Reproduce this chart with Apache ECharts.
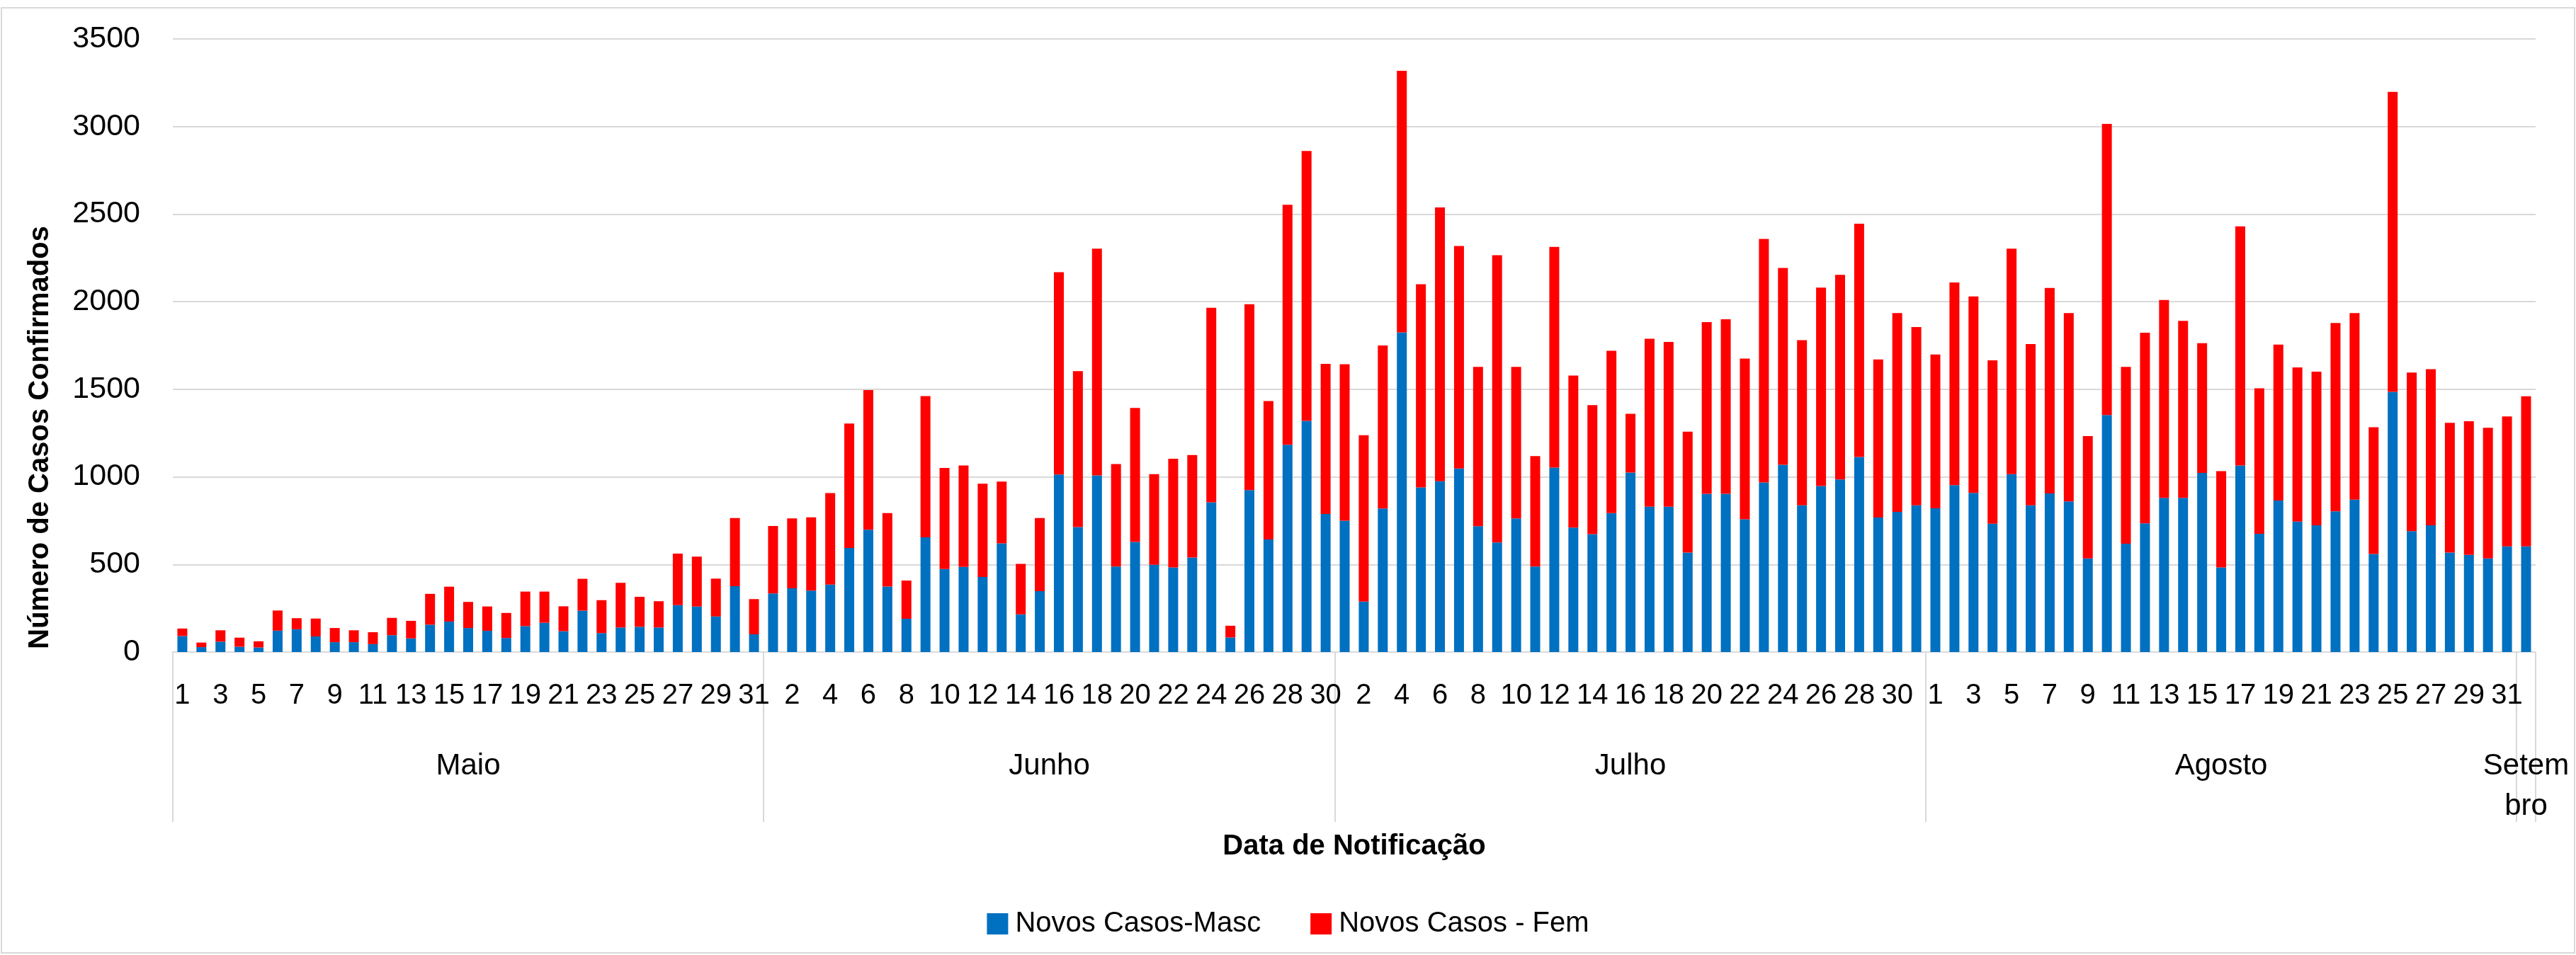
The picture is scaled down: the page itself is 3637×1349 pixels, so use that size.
<!DOCTYPE html>
<html>
<head>
<meta charset="utf-8">
<script src="https://cdn.jsdelivr.net/npm/echarts@6/dist/echarts.min.js"></script>
<style>
html,body{margin:0;padding:0;background:#fff;}
#chart{width:3637px;height:1349px;}
</style>
</head>
<body>
<div id="chart"></div>
<script>
// ---- DATA ----
const months = ['Maio', 'Junho', 'Julho', 'Agosto', 'Setembro'];
const mayDays = ['1','2','3','4','5','6','7','8','9','10','11','12','13','14','15','16','17','18','19','20','21','22','23','24','25','26','27','28','29','30','31'];
const junDays = ['1','2','3','4','5','6','7','8','9','10','11','12','13','14','15','16','17','18','19','20','21','22','23','24','25','26','27','28','29','30'];
const julDays = ['1','2','3','4','5','6','7','8','9','10','11','12','13','14','15','16','17','18','19','20','21','22','23','24','25','26','27','28','29','30','31'];
const augDays = ['1','2','3','4','5','6','7','8','9','10','11','12','13','14','15','16','17','18','19','20','21','22','23','24','25','26','27','28','29','30','31'];
const sepDays = ['1'];

const mascMay = [91,28,59,30,26,122,130,89,56,56,45,96,78,156,174,137,121,80,148,167,119,236,108,140,144,140,268,260,203,376,101];
const mascJun = [334,364,351,385,594,698,374,190,655,474,486,428,620,215,348,1013,713,1008,488,628,498,483,540,855,83,925,643,1183,1320,788];
const mascJul = [750,288,819,1825,940,975,1048,718,625,763,488,1053,710,673,793,1025,830,830,568,903,903,758,968,1069,838,948,985,1113,768,800,838];
const mascAug = [820,953,908,733,1015,838,905,860,535,1353,618,735,880,880,1023,483,1065,675,865,745,723,803,870,560,1485,690,723,568,555,535,603];
const mascSep = [603];

const femMay = [43,26,65,52,35,115,63,102,81,68,68,99,100,176,199,149,139,143,197,178,142,182,188,255,171,150,294,285,216,389,201];
const femJun = [385,399,418,522,710,797,419,218,806,577,579,533,353,288,417,1155,890,1295,585,765,517,620,585,1110,67,1060,790,1370,1540,857];
const femJul = [893,950,931,1493,1160,1563,1270,910,1640,865,630,1260,868,737,927,335,958,940,690,980,997,917,1390,1124,942,1132,1168,1332,902,1135,1017];
const femAug = [878,1157,1122,932,1288,920,1173,1075,698,1662,1010,1088,1130,1010,740,550,1365,830,890,880,877,1075,1065,723,1713,905,892,740,763,745,742];
const femSep = [857];

const yTicks = [0, 500, 1000, 1500, 2000, 2500, 3000, 3500];
const seriesNames = ['Novos Casos-Masc', 'Novos Casos - Fem'];

// ---- BUILD ----
const dayGroups = [mayDays, junDays, julDays, augDays, sepDays];
const categories = [].concat(...dayGroups);
const masc = [].concat(mascMay, mascJun, mascJul, mascAug, mascSep);
const fem = [].concat(femMay, femJun, femJul, femAug, femSep);

// month boundaries and centres on a 0..N value scale
const boundaries = [0];
const centers = [];
dayGroups.forEach(g => {
  const start = boundaries[boundaries.length - 1];
  centers.push(start + g.length / 2);
  boundaries.push(start + g.length);
});
const N = categories.length;

const FONT = 'Liberation Sans';
const chart = echarts.init(document.getElementById('chart'), null, {renderer: 'canvas'});
chart.setOption({
  animation: false,
  backgroundColor: '#ffffff',
  grid: {left: 244, right: 39, top: 55, bottom: 428, containLabel: false},
  legend: {
    data: seriesNames,
    left: 'center',
    top: 1280,
    icon: 'rect',
    itemWidth: 30,
    itemHeight: 30,
    itemGap: 70,
    textStyle: {fontSize: 40, fontFamily: FONT, color: '#000', padding: [0, 0, 0, 5]}
  },
  xAxis: [
    {
      type: 'category',
      data: categories,
      boundaryGap: true,
      axisLine: {show: true, lineStyle: {color: '#d9d9d9', width: 2}},
      axisTick: {show: false},
      axisLabel: {interval: 1, fontSize: 40, fontFamily: FONT, color: '#000', margin: 42},
      name: 'Data de Notificação',
      nameLocation: 'middle',
      nameGap: 255,
      nameTextStyle: {fontSize: 40, fontWeight: 'bold', fontFamily: FONT, color: '#000'}
    },
    {
      type: 'value',
      min: 0,
      max: N,
      position: 'bottom',
      axisLine: {show: false},
      splitLine: {show: false},
      axisTick: {show: true, customValues: boundaries, length: 240, lineStyle: {color: '#d9d9d9', width: 2}},
      axisLabel: {
        show: true,
        customValues: centers,
        formatter: function (v) {
          const i = centers.indexOf(v);
          return i >= 0 ? months[i] : '';
        },
        fontSize: 42,
        fontFamily: FONT,
        color: '#000',
        margin: 133,
        lineHeight: 57,
        width: 135,
        overflow: 'breakAll'
      }
    }
  ],
  yAxis: {
    type: 'value',
    min: yTicks[0],
    max: yTicks[yTicks.length - 1],
    interval: 500,
    axisLine: {show: false},
    axisTick: {show: false},
    splitLine: {show: true, lineStyle: {color: '#d9d9d9', width: 2}},
    axisLabel: {fontSize: 43, fontFamily: FONT, color: '#000', margin: 46, formatter: v => String(v)}
  },
  graphic: [
    {
      type: 'rect',
      silent: true,
      z: -10,
      shape: {x: 2, y: 11, width: 3633, height: 1335},
      style: {fill: null, stroke: '#d9d9d9', lineWidth: 2}
    },
    {
      type: 'text',
      x: 57,
      y: 618,
      rotation: Math.PI / 2,
      style: {
        text: 'Número de Casos Confirmados',
        fontSize: 40,
        fontWeight: 'bold',
        fontFamily: FONT,
        fill: '#000',
        align: 'center',
        verticalAlign: 'middle'
      }
    }
  ],
  series: [
    {
      name: seriesNames[0],
      type: 'bar',
      stack: 'total',
      xAxisIndex: 0,
      yAxisIndex: 0,
      barWidth: 14,
      data: masc,
      itemStyle: {color: '#0070C0'}
    },
    {
      name: seriesNames[1],
      type: 'bar',
      stack: 'total',
      xAxisIndex: 0,
      yAxisIndex: 0,
      barWidth: 14,
      data: fem,
      itemStyle: {color: '#FF0000'}
    }
  ]
});
</script>
</body>
</html>
